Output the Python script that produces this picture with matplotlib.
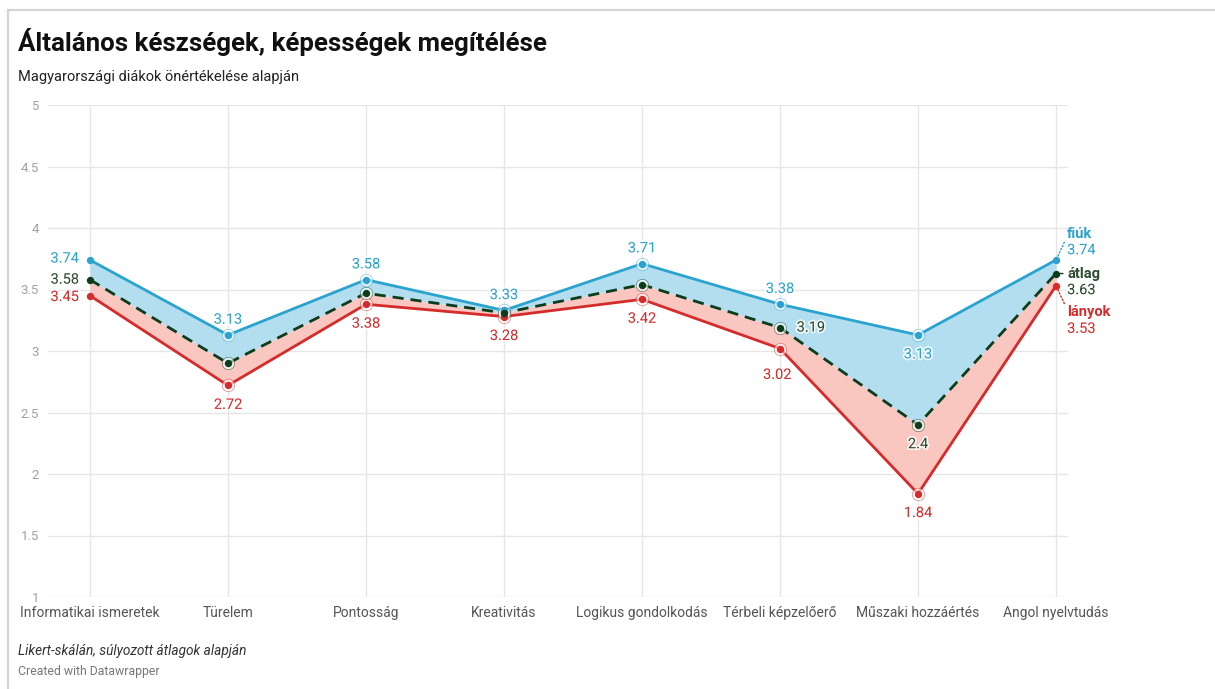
import matplotlib
matplotlib.use("Agg")
import matplotlib.pyplot as plt
import matplotlib.patheffects as pe
from matplotlib.lines import Line2D

plt.rcParams['font.family'] = ['Roboto', 'DejaVu Sans']

categories = ["Informatikai ismeretek", "Türelem", "Pontosság", "Kreativitás",
              "Logikus gondolkodás", "Térbeli képzelőerő", "Műszaki hozzáértés",
              "Angol nyelvtudás"]
fiuk = [3.74, 3.13, 3.58, 3.33, 3.71, 3.38, 3.13, 3.74]
atlag = [3.58, 2.90, 3.47, 3.31, 3.54, 3.19, 2.40, 3.63]
lanyok = [3.45, 2.72, 3.38, 3.28, 3.42, 3.02, 1.84, 3.53]
yticks = [1, 1.5, 2, 2.5, 3, 3.5, 4, 4.5, 5]
ytick_labels = ["1", "1.5", "2", "2.5", "3", "3.5", "4", "4.5", "5"]

BLUE = "#2ba3cf"
BLUE_FILL = "#b3deef"
RED = "#d52b2b"
RED_FILL = "#f9c6c0"
GREEN = "#0b3d1c"
GREEN_TXT = "#2b4a2f"
GRID = "#e6e6e6"

W, H = 1215, 689
fig = plt.figure(figsize=(W / 100, H / 100), dpi=100)
fig.patch.set_facecolor("white")

# frame of the screenshot
fig.add_artist(Line2D([8 / W, 1], [1 - 10 / H, 1 - 10 / H], color="#d4d4d4", lw=1.6))
fig.add_artist(Line2D([8 / W, 8 / W], [0, 1 - 10 / H], color="#d4d4d4", lw=1.6))

ax = fig.add_axes([48 / W, 1 - 597 / H, (1068 - 48) / W, (597 - 105) / H])
x = list(range(len(categories)))
ax.set_xlim(-0.304, 7.087)
ax.set_ylim(1, 5)
for s in ax.spines.values():
    s.set_visible(False)
ax.set_yticks(yticks)
ax.set_yticklabels(ytick_labels)
ax.set_xticks(x)
ax.set_xticklabels(categories)
ax.tick_params(axis="y", length=0, pad=6.5, labelsize=9.5, labelcolor="#a0a0a0")
ax.tick_params(axis="x", length=0, pad=6.5, labelsize=10, labelcolor="#555555")
for lab in ax.get_yticklabels():
    lab.set_horizontalalignment("right")
ax.grid(True, color=GRID, lw=1)
ax.set_axisbelow(True)

ax.fill_between(x, fiuk, atlag, color=BLUE_FILL, lw=0, zorder=1)
ax.fill_between(x, atlag, lanyok, color=RED_FILL, lw=0, zorder=1)
ax.plot(x, fiuk, color=BLUE, lw=2, zorder=3, solid_joinstyle="miter")
ax.plot(x, lanyok, color=RED, lw=2, zorder=3, solid_joinstyle="miter")
ax.plot(x, atlag, color=GREEN, lw=2, ls=(0, (4, 2.5)), zorder=3)

# highlighted rings
ring_idx = [1, 2, 3, 4, 5, 6]
for series, col in [(fiuk, BLUE), (lanyok, RED), (atlag, GREEN)]:
    ax.scatter([x[i] for i in ring_idx], [series[i] for i in ring_idx], s=80,
               facecolor=(1, 1, 1, 0.35), edgecolor=col, linewidth=0.5, alpha=0.6, zorder=4)
    ax.scatter(x, series, s=28, color=col, zorder=5, linewidth=0)

halo = [pe.withStroke(linewidth=2.5, foreground="white", alpha=0.8)]
fs = 10.5

def lab(xi, yv, txt, col, dx=0, dy=0, ha="center", va="center", weight="normal"):
    ax.annotate(txt, (xi, yv), xytext=(dx, dy), textcoords="offset points",
                ha=ha, va=va, color=col, fontsize=fs, fontweight=weight,
                path_effects=halo, zorder=6)

# first category: left
lab(0, fiuk[0], "3.74", BLUE, dx=-8, dy=1, ha="right")
lab(0, atlag[0], "3.58", GREEN_TXT, dx=-8, dy=0, ha="right")
lab(0, lanyok[0], "3.45", RED, dx=-8, dy=-1, ha="right")

for i in [1, 2, 3, 4]:
    lab(i, fiuk[i], f"{fiuk[i]:g}", BLUE, dy=11)
    lab(i, lanyok[i], f"{lanyok[i]:g}", RED, dy=-14)
lab(5, fiuk[5], f"{fiuk[5]:g}", BLUE, dy=11)
lab(5, lanyok[5], f"{lanyok[5]:g}", RED, dx=-2, dy=-19)
lab(5, atlag[5], f"{atlag[5]:g}", GREEN_TXT, dx=12, ha="left")
lab(6, fiuk[6], f"{fiuk[6]:g}", BLUE, dy=-14)
lab(6, atlag[6], f"{atlag[6]:g}", GREEN_TXT, dy=-14)
lab(6, lanyok[6], f"{lanyok[6]:g}", RED, dy=-14)

# last category: legend-like labels with leader lines
ax.annotate("fiúk", (7, fiuk[7]), xytext=(8, 19), textcoords="offset points",
            ha="left", va="center", color=BLUE, fontsize=fs, fontweight="bold",
            arrowprops=dict(arrowstyle="-", color=BLUE, lw=1, ls=(0, (1, 1.5)),
                            shrinkA=0, shrinkB=3, relpos=(0, 0.3)), zorder=6)
lab(7, fiuk[7], f"{fiuk[7]:g}", BLUE, dx=8, dy=7, ha="left")
ax.annotate("átlag", (7, atlag[7]), xytext=(8, 0), textcoords="offset points",
            ha="left", va="center", color=GREEN_TXT, fontsize=fs, fontweight="bold",
            arrowprops=dict(arrowstyle="-", color=GREEN, lw=1, ls=(0, (2, 1)),
                            shrinkA=1, shrinkB=3), zorder=6)
lab(7, atlag[7], f"{atlag[7]:g}", GREEN_TXT, dx=8, dy=-12, ha="left")
ax.annotate("lányok", (7, lanyok[7]), xytext=(8, -19), textcoords="offset points",
            ha="left", va="center", color=RED, fontsize=fs, fontweight="bold",
            arrowprops=dict(arrowstyle="-", color=RED, lw=1, ls=(0, (1, 1.5)),
                            shrinkA=0, shrinkB=3, relpos=(0, 0.7)), zorder=6)
lab(7, lanyok[7], f"{lanyok[7]:g}", RED, dx=8, dy=-31, ha="left")

# titles
fig.text(18 / W, 1 - 42 / H, "Általános készségek, képességek megítélése",
         fontsize=18.6, fontweight="bold", color="#111111", va="center", ha="left")
fig.text(18 / W, 1 - 77 / H, "Magyarországi diákok önértékelése alapján",
         fontsize=10.5, color="#222222", va="center", ha="left")
fig.text(18 / W, 1 - 651 / H, "Likert-skálán, súlyozott átlagok alapján",
         fontsize=9.8, style="italic", color="#333333", va="center", ha="left")
fig.text(18 / W, 1 - 672 / H, "Created with Datawrapper",
         fontsize=8.8, color="#777777", va="center", ha="left")

fig.savefig("out.png", dpi=100, facecolor="white")
